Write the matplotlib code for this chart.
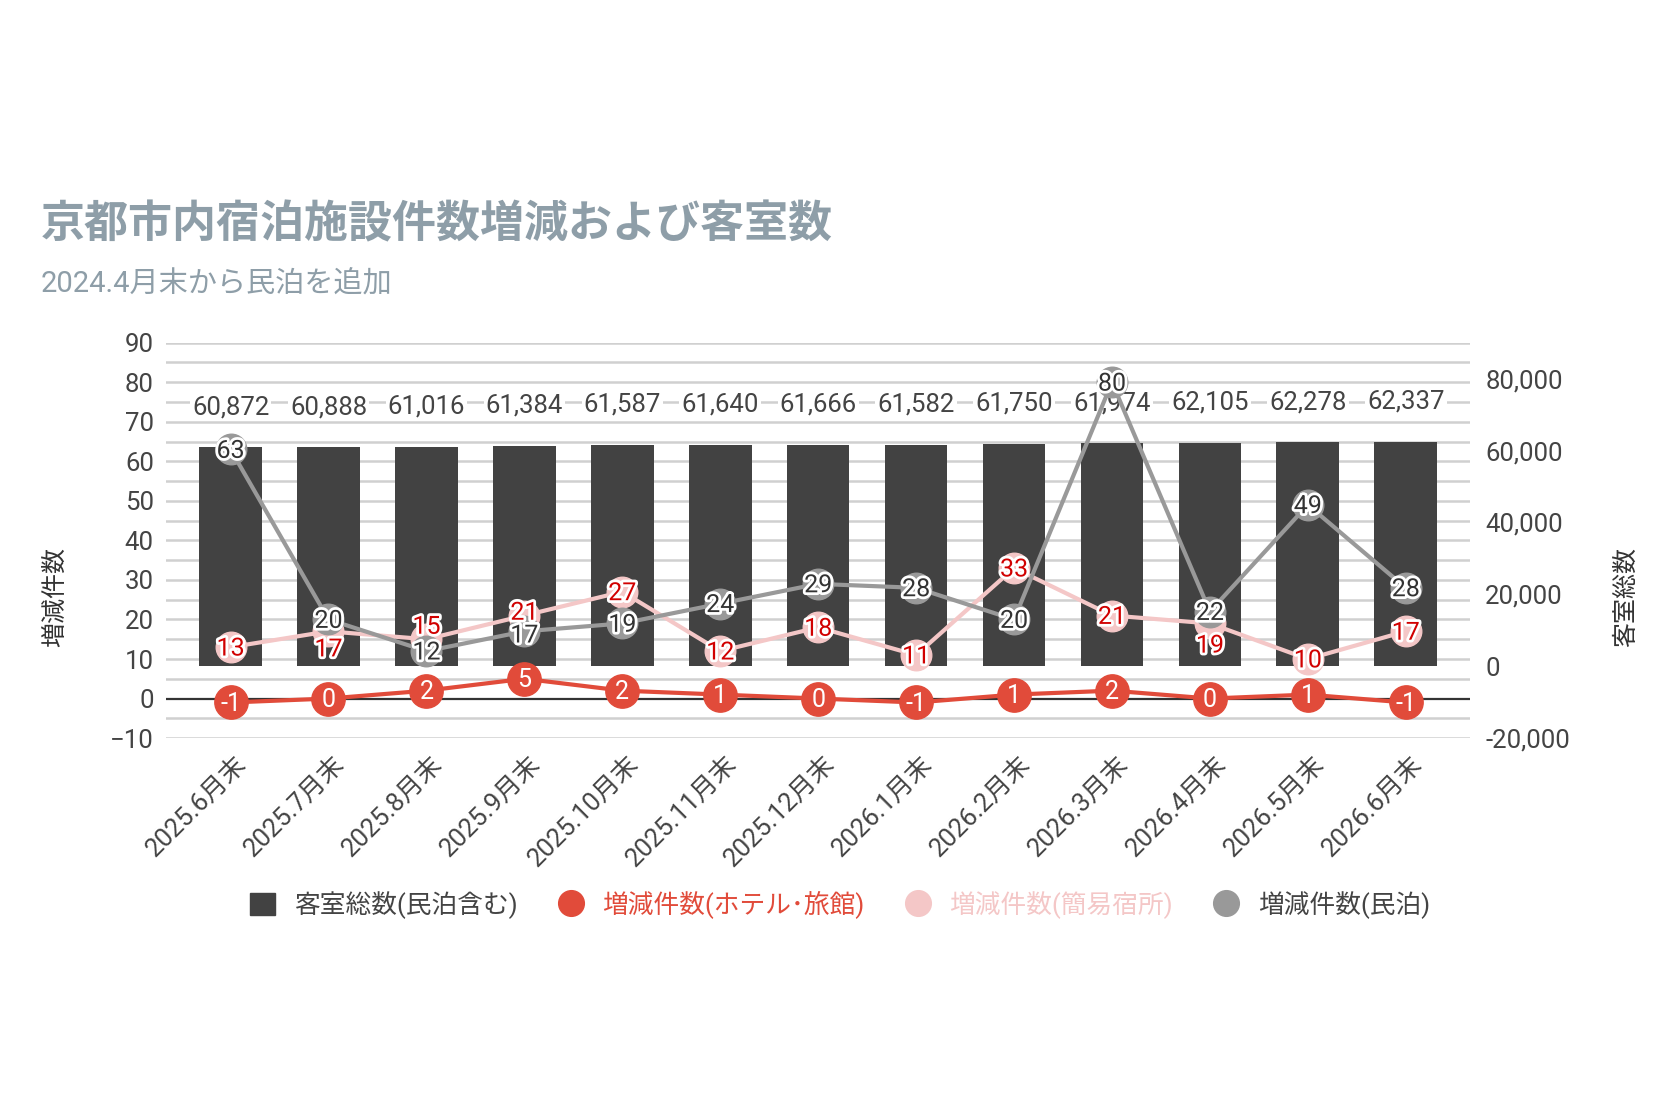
import matplotlib
matplotlib.use("Agg")
import matplotlib.pyplot as plt
import matplotlib.patheffects as pe
import matplotlib.transforms as mtransforms
from matplotlib.lines import Line2D
from matplotlib.patches import Patch
from matplotlib.ticker import FuncFormatter

plt.rcParams['font.family'] = ['Roboto', 'Noto Sans CJK JP', 'DejaVu Sans']

months = ["2025.6月末", "2025.7月末", "2025.8月末", "2025.9月末", "2025.10月末",
          "2025.11月末", "2025.12月末", "2026.1月末", "2026.2月末", "2026.3月末",
          "2026.4月末", "2026.5月末", "2026.6月末"]
rooms = [60872, 60888, 61016, 61384, 61587, 61640, 61666, 61582, 61750, 61974,
         62105, 62278, 62337]
hotel = [-1, 0, 2, 5, 2, 1, 0, -1, 1, 2, 0, 1, -1]
simple = [13, 17, 15, 21, 27, 12, 18, 11, 33, 21, 19, 10, 17]
minpaku = [63, 20, 12, 17, 19, 24, 29, 28, 20, 80, 22, 49, 28]

C_BAR = "#424242"
C_HOTEL = "#e14b3a"
C_SIMPLE = "#f4c7c7"
C_MINPAKU = "#999999"
C_TEXT = "#444444"
C_TITLE = "#8e9ea8"

fig = plt.figure(figsize=(16.8, 11.2), dpi=100)
ax_bar = fig.add_axes([0.099, 0.341, 0.776, 0.353])
ax = ax_bar.twinx()
x = list(range(len(months)))

# gridlines every 5 on the left scale, drawn under the bars
blend = mtransforms.blended_transform_factory(ax_bar.transAxes, ax.transData)
for v in range(-10, 95, 5):
    if v == 0:
        continue
    ax_bar.add_line(Line2D([0, 1], [v, v], transform=blend, color="#d0d0d0",
                           lw=1.8, zorder=0))

ax_bar.bar(x, rooms, width=0.64, color=C_BAR, zorder=2)
for i, v in enumerate(rooms):
    ax_bar.annotate(f"{v:,}", (i, v), xytext=(0, 29), textcoords="offset points",
                    ha="center", va="center", fontsize=18.5, color=C_TEXT, zorder=3,
                    bbox=dict(boxstyle="square,pad=0.08", fc="white", ec="none"))

ax.axhline(0, color="#333333", lw=1.6, zorder=1)

series = [
    (hotel, C_HOTEL, 24, "white", None),
    (simple, C_SIMPLE, 22, "#d10000", "white"),
    (minpaku, C_MINPAKU, 22, "#333333", "white"),
]
for vals, col, ms, _, _ in series:
    ax.plot(x, vals, color=col, lw=3, marker="o", ms=ms, mec=col, zorder=3)

# label nudges (points) where labels collide
nudge = {(1, 1): -12, (1, 2): 10, (1, 10): -15, (1, 3): 3, (2, 3): -2}
for k, (vals, col, ms, tcol, halo) in enumerate(series):
    for i, v in enumerate(vals):
        t = ax.annotate(str(v), (i, v), xytext=(0, nudge.get((k, i), 0) - 1),
                        textcoords="offset points", ha="center", va="center",
                        fontsize=18, color=tcol, zorder=5)
        if halo:
            t.set_path_effects([pe.withStroke(linewidth=4, foreground=halo)])

ax_bar.set_ylim(-20000, 90000)
ax.set_ylim(-10, 90)
ax_bar.set_xlim(-0.656, len(months) - 1 + 0.656)
ax_bar.set_yticks(range(-20000, 80001, 20000))
ax_bar.yaxis.set_major_formatter(FuncFormatter(lambda v, p: f"{int(v):,}"))
ax.set_yticks(range(-10, 91, 10))
ax_bar.yaxis.tick_right()
ax.yaxis.tick_left()

# month labels: rotated, end point a little right of the category centre
ax_bar.set_xticks(x)
ax_bar.set_xticklabels([])
for i, m in enumerate(months):
    ax_bar.annotate(m, (i, 0), xycoords=("data", "axes fraction"), xytext=(9, -16),
                    textcoords="offset points", rotation=45, ha="right", va="center",
                    rotation_mode="anchor", fontsize=18.5, color=C_TEXT)

for a in (ax_bar, ax):
    for s in a.spines.values():
        s.set_visible(False)
    a.tick_params(length=0, labelsize=18.5, labelcolor=C_TEXT)
ax_bar.tick_params(axis="y", pad=11)
ax.tick_params(axis="y", pad=9)

fig.text(0.024, 0.799, "京都市内宿泊施設件数増減および客室数", fontsize=31.7,
         fontweight="bold", color=C_TITLE, ha="left", va="center")
fig.text(0.024, 0.746, "2024.4月末から民泊を追加", fontsize=21,
         color=C_TITLE, ha="left", va="center")
fig.text(0.033, 0.467, "増減件数", rotation=90, fontsize=18, color="#333333",
         ha="center", va="center")
fig.text(0.968, 0.467, "客室総数", rotation=90, fontsize=18, color="#333333",
         ha="center", va="center")

handles = [
    Patch(color=C_BAR),
    Line2D([], [], ls="none", marker="o", ms=18.5, color=C_HOTEL),
    Line2D([], [], ls="none", marker="o", ms=18.5, color=C_SIMPLE),
    Line2D([], [], ls="none", marker="o", ms=18.5, color=C_MINPAKU),
]
labels = ["客室総数(民泊含む)", "増減件数(ホテル･旅館)", "増減件数(簡易宿所)", "増減件数(民泊)"]
fig.legend(handles, labels, loc="center", bbox_to_anchor=(0.5, 0.192), ncol=4,
           frameon=False, fontsize=18.5, handlelength=0.95, handleheight=0.95,
           handletextpad=0.75, columnspacing=1.6,
           labelcolor=[C_TEXT, C_HOTEL, C_SIMPLE, C_TEXT])

fig.savefig("out.png", dpi=100)
